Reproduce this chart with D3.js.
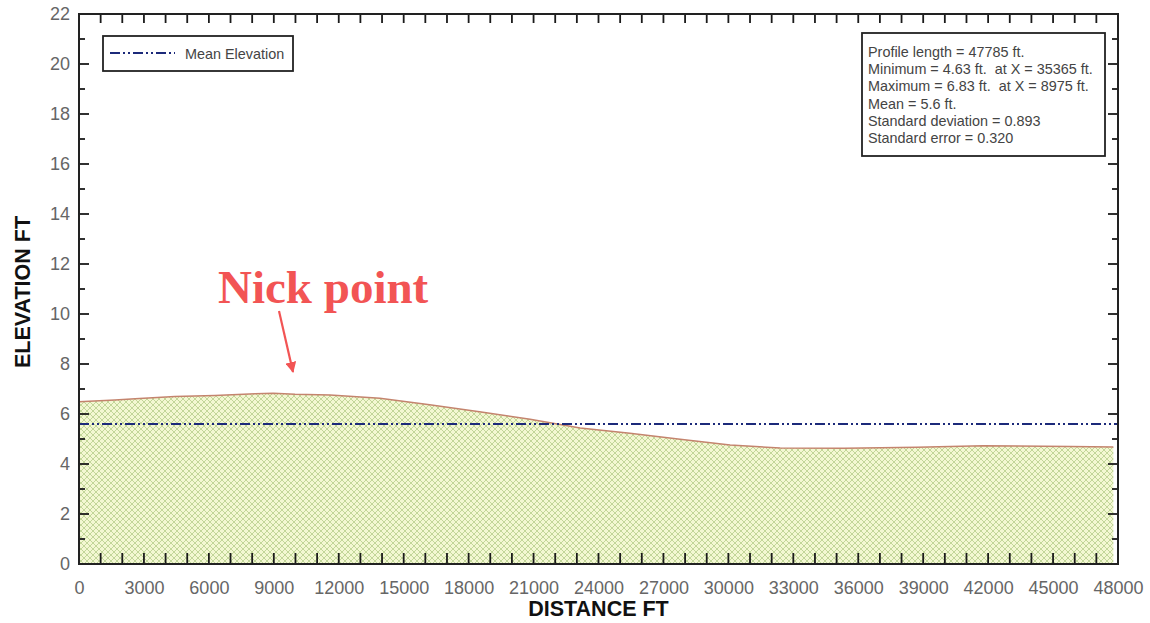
<!DOCTYPE html>
<html>
<head>
<meta charset="utf-8">
<script src="https://cdn.jsdelivr.net/npm/d3@7"></script>
<style>
  body { margin: 0; background: #fff; }
  svg { display: block; }
  .tick text { font-family: "Liberation Sans", Arial, sans-serif; fill: #666; }
</style>
</head>
<body>
<script>
"use strict";

var width = 1150;
var height = 623;
var margin = { left: 79, right: 32, top: 14, bottom: 59 };

// profile data
var distance = [0, 1660, 2590, 4430, 6280, 8130, 8975, 9980, 11600, 13900, 16200, 18500, 20840, 22360, 23150, 25450, 27770, 30080, 32390, 35365, 38710, 41770, 45790, 47785];
var elevation = [6.49, 6.56, 6.61, 6.70, 6.74, 6.81, 6.83, 6.79, 6.76, 6.63, 6.37, 6.09, 5.79, 5.56, 5.44, 5.23, 4.99, 4.76, 4.64, 4.63, 4.67, 4.73, 4.70, 4.68];
var meanElevation = 5.6;
var statsLines = [
  "Profile length = 47785 ft.",
  "Minimum = 4.63 ft.  at X = 35365 ft.",
  "Maximum = 6.83 ft.  at X = 8975 ft.",
  "Mean = 5.6 ft.",
  "Standard deviation = 0.893",
  "Standard error = 0.320"
];
var xTicks = d3.range(0, 48001, 1000);
var xLabels = d3.range(0, 48001, 3000);
var yMajor = d3.range(0, 23, 2);
var yMinor = d3.range(1, 22, 2);

var points = distance.map(function (d, i) { return [d, elevation[i]]; });

var svg = d3.select("body").append("svg").attr("width", width).attr("height", height);

var xScale = d3.scaleLinear().domain([0, 48000]).range([margin.left, width - margin.right]);
var yScale = d3.scaleLinear().domain([0, 22]).range([height - margin.bottom, margin.top]);

var x0 = xScale(0), x1 = xScale(48000), y0 = yScale(0), y1 = yScale(22);

// crosshatch fill
var defs = svg.append("defs");
var pat = defs.append("pattern").attr("id", "hatch").attr("patternUnits", "userSpaceOnUse")
  .attr("width", 6).attr("height", 6);
pat.append("rect").attr("width", 6).attr("height", 6).attr("fill", "#f3f8d2");
pat.append("path").attr("d", "M0,0L6,6M6,0L0,6M-1,5L1,7M5,-1L7,1M5,7L7,5M-1,1L1,-1")
  .attr("stroke", "#bcd293").attr("stroke-width", 0.9);

var area = d3.area().x(function (d) { return xScale(d[0]); }).y0(y0).y1(function (d) { return yScale(d[1]); });
var line = d3.line().x(function (d) { return xScale(d[0]); }).y(function (d) { return yScale(d[1]); });

svg.append("path").datum(points).attr("d", area).attr("fill", "url(#hatch)");
svg.append("path").datum(points).attr("d", line).attr("fill", "none").attr("stroke", "#c4846e").attr("stroke-width", 1.5);

// mean line
svg.append("line")
  .attr("x1", x0).attr("x2", x1)
  .attr("y1", yScale(meanElevation)).attr("y2", yScale(meanElevation))
  .attr("stroke", "#1c2a7a").attr("stroke-width", 2)
  .attr("stroke-dasharray", "10,3,2,3,2,3");

// tick labels from d3 axes
svg.append("g").attr("class", "ax").attr("transform", "translate(0," + y0 + ")")
  .call(d3.axisBottom(xScale).tickValues(xLabels).tickSize(0).tickPadding(17).tickFormat(d3.format("d")))
  .call(function (g) { g.selectAll("text").attr("font-size", 18); });
svg.append("g").attr("class", "ax").attr("transform", "translate(" + x0 + ",0)")
  .call(d3.axisLeft(yScale).tickValues(yMajor).tickSize(0).tickPadding(9))
  .call(function (g) { g.selectAll("text").attr("font-size", 18); });
svg.selectAll(".ax .domain").remove();
svg.selectAll(".ax .tick line").remove();

// inward tick marks
var ticks = svg.append("g").attr("stroke", "#1a1a1a").attr("stroke-width", 1.8);
ticks.selectAll(".xb").data(xTicks).enter().append("line")
  .attr("x1", function (d) { return xScale(d); }).attr("x2", function (d) { return xScale(d); })
  .attr("y1", y0).attr("y2", y0 - 11);
ticks.selectAll(".xt").data(xTicks).enter().append("line")
  .attr("x1", function (d) { return xScale(d); }).attr("x2", function (d) { return xScale(d); })
  .attr("y1", y1).attr("y2", y1 + 9);
[[yMajor, 10], [yMinor, 6]].forEach(function (set) {
  ticks.selectAll(null).data(set[0]).enter().append("line")
    .attr("y1", function (d) { return yScale(d); }).attr("y2", function (d) { return yScale(d); })
    .attr("x1", x0).attr("x2", x0 + set[1]);
  ticks.selectAll(null).data(set[0]).enter().append("line")
    .attr("y1", function (d) { return yScale(d); }).attr("y2", function (d) { return yScale(d); })
    .attr("x1", x1).attr("x2", x1 - set[1]);
});

// plot frame
svg.append("rect")
  .attr("x", x0).attr("y", y1)
  .attr("width", x1 - x0).attr("height", y0 - y1)
  .attr("fill", "none").attr("stroke", "#222").attr("stroke-width", 2);

// axis titles
svg.append("text").attr("x", (x0 + x1) / 2).attr("y", 616)
  .attr("text-anchor", "middle").attr("font-family", "Liberation Sans, Arial, sans-serif")
  .attr("font-weight", "bold").attr("font-size", 21.5).attr("fill", "#111").text("DISTANCE FT");
svg.append("text").attr("transform", "translate(30,292) rotate(-90)")
  .attr("text-anchor", "middle").attr("font-family", "Liberation Sans, Arial, sans-serif")
  .attr("font-weight", "bold").attr("font-size", 21.5).attr("fill", "#111").text("ELEVATION FT");

// legend
var leg = svg.append("g");
leg.append("rect").attr("x", 103).attr("y", 36).attr("width", 190).attr("height", 35)
  .attr("fill", "#fff").attr("stroke", "#222").attr("stroke-width", 1.8);
leg.append("line").attr("x1", 110).attr("x2", 175).attr("y1", 53).attr("y2", 53)
  .attr("stroke", "#1c2a7a").attr("stroke-width", 2).attr("stroke-dasharray", "10,3,2,3,2,3");
leg.append("text").attr("x", 185).attr("y", 59).attr("font-family", "Liberation Sans, Arial, sans-serif")
  .attr("font-size", 14.4).attr("fill", "#444").text("Mean Elevation");

// stats box
var stats = svg.append("g");
stats.append("rect").attr("x", 862).attr("y", 33).attr("width", 243).attr("height", 123)
  .attr("fill", "#fff").attr("stroke", "#222").attr("stroke-width", 1.8);
stats.selectAll("text").data(statsLines).enter().append("text")
  .attr("x", 868).attr("y", function (d, i) { return 57 + i * 17.2; })
  .attr("font-family", "Liberation Sans, Arial, sans-serif").attr("font-size", 14.4).attr("fill", "#444")
  .attr("xml:space", "preserve").style("white-space", "pre")
  .text(function (d) { return d; });

// annotation
svg.append("text").attr("x", 218).attr("y", 303)
  .attr("font-family", "Liberation Serif, Times New Roman, serif").attr("font-weight", "bold")
  .attr("font-size", 47).attr("fill", "#f25454").text("Nick point");
defs.append("marker").attr("id", "arrow").attr("viewBox", "0 0 10 10").attr("refX", 9).attr("refY", 5)
  .attr("markerWidth", 5).attr("markerHeight", 5).attr("orient", "auto")
  .append("path").attr("d", "M0,0L10,5L0,10z").attr("fill", "#f25454");
svg.append("line").attr("x1", 279).attr("y1", 311).attr("x2", 293).attr("y2", 372)
  .attr("stroke", "#f25454").attr("stroke-width", 2.2).attr("marker-end", "url(#arrow)");
</script>
</body>
</html>
